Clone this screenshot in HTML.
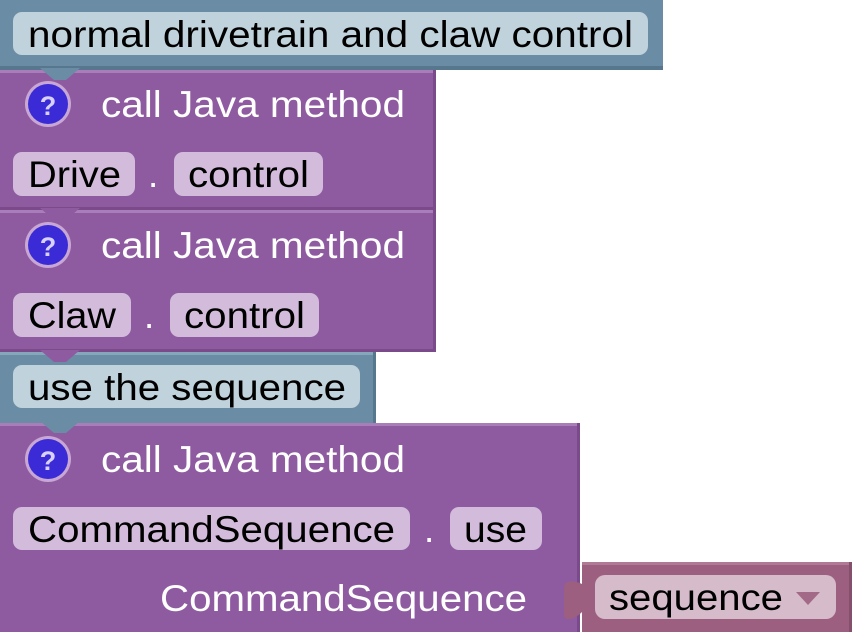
<!DOCTYPE html>
<html><head><meta charset="utf-8"><style>
html,body{margin:0;padding:0;background:#fff;width:854px;height:632px;overflow:hidden}
svg text{font-family:"Liberation Sans",Arial,sans-serif;font-size:37px}
</style></head><body>
<svg width="854" height="632" viewBox="0 0 854 632" xmlns="http://www.w3.org/2000/svg">
<rect x="0" y="0" width="663" height="70" fill="#6a8ca4"/>
<rect x="0" y="66" width="663" height="4" fill="#56778e"/>
<rect x="13" y="12" width="635" height="43" rx="9" fill="#c0d2db"/>
<text x="28" y="47" fill="#000" textLength="605" lengthAdjust="spacingAndGlyphs">normal drivetrain and claw control</text>
<rect x="0" y="70" width="436" height="140" fill="#8f5ba0"/>
<rect x="0" y="70" width="436" height="3" fill="#a97dba"/>
<rect x="433" y="70" width="3" height="140" fill="#7a4a8a"/>
<rect x="0" y="207" width="436" height="3" fill="#7a4a8a"/>
<polygon points="40,68 54,80 66,80 80,68" fill="#6a8ca4"/>
<circle cx="48" cy="104" r="23" fill="#c9a7d4"/>
<circle cx="48" cy="104" r="20" fill="#3a2bd6"/>
<text x="48" y="115" fill="#d8d0ff" text-anchor="middle" font-weight="bold" style="font-size:27px">?</text>
<text x="101" y="117" fill="#fff" textLength="304" lengthAdjust="spacingAndGlyphs">call Java method</text>
<rect x="13" y="152" width="122" height="44" rx="9" fill="#d3bcdb"/>
<text x="28" y="187" fill="#000" textLength="93" lengthAdjust="spacingAndGlyphs">Drive</text>
<text x="148" y="187" fill="#fff">.</text>
<rect x="174" y="152" width="149" height="44" rx="9" fill="#d3bcdb"/>
<text x="188" y="187" fill="#000" textLength="121" lengthAdjust="spacingAndGlyphs">control</text>
<rect x="0" y="210" width="436" height="142" fill="#8f5ba0"/>
<rect x="0" y="210" width="436" height="3" fill="#a97dba"/>
<rect x="433" y="210" width="3" height="142" fill="#7a4a8a"/>
<rect x="0" y="349" width="436" height="3" fill="#7a4a8a"/>
<polygon points="40,208 54,220 66,220 80,208" fill="#8f5ba0"/>
<circle cx="48" cy="245" r="23" fill="#c9a7d4"/>
<circle cx="48" cy="245" r="20" fill="#3a2bd6"/>
<text x="48" y="256" fill="#d8d0ff" text-anchor="middle" font-weight="bold" style="font-size:27px">?</text>
<text x="101" y="258" fill="#fff" textLength="304" lengthAdjust="spacingAndGlyphs">call Java method</text>
<rect x="13" y="293" width="118" height="44" rx="9" fill="#d3bcdb"/>
<text x="28" y="328" fill="#000" textLength="88" lengthAdjust="spacingAndGlyphs">Claw</text>
<text x="144" y="328" fill="#fff">.</text>
<rect x="170" y="293" width="149" height="44" rx="9" fill="#d3bcdb"/>
<text x="184" y="328" fill="#000" textLength="121" lengthAdjust="spacingAndGlyphs">control</text>
<rect x="0" y="352" width="376" height="71" fill="#6a8ca4"/>
<rect x="0" y="352" width="376" height="3" fill="#86a6bb"/>
<rect x="373" y="352" width="3" height="71" fill="#56778e"/>
<polygon points="40,350 54,362 66,362 80,350" fill="#8f5ba0"/>
<rect x="13" y="365" width="347" height="43" rx="9" fill="#c0d2db"/>
<text x="28" y="400" fill="#000" textLength="318" lengthAdjust="spacingAndGlyphs">use the sequence</text>
<rect x="0" y="423" width="580" height="209" fill="#8f5ba0"/>
<rect x="0" y="423" width="580" height="3" fill="#a97dba"/>
<rect x="577" y="423" width="3" height="209" fill="#7a4a8a"/>
<polygon points="40,421 54,433 66,433 80,421" fill="#6a8ca4"/>
<circle cx="48" cy="459" r="23" fill="#c9a7d4"/>
<circle cx="48" cy="459" r="20" fill="#3a2bd6"/>
<text x="48" y="470" fill="#d8d0ff" text-anchor="middle" font-weight="bold" style="font-size:27px">?</text>
<text x="101" y="472" fill="#fff" textLength="304" lengthAdjust="spacingAndGlyphs">call Java method</text>
<rect x="13" y="507" width="397" height="43" rx="9" fill="#d3bcdb"/>
<text x="28" y="542" fill="#000" textLength="367" lengthAdjust="spacingAndGlyphs">CommandSequence</text>
<text x="424" y="542" fill="#fff">.</text>
<rect x="450" y="507" width="92" height="43" rx="9" fill="#d3bcdb"/>
<text x="464" y="542" fill="#000" textLength="63" lengthAdjust="spacingAndGlyphs">use</text>
<text x="160" y="611" fill="#fff" textLength="367" lengthAdjust="spacingAndGlyphs">CommandSequence</text>
<rect x="582" y="562" width="270" height="70" fill="#9c5f7f"/>
<rect x="582" y="562" width="270" height="3" fill="#b07a96"/>
<rect x="849" y="562" width="3" height="70" fill="#85506b"/>
<path d="M582,584 C574,580 564,580 564,588 L564,614 C564,622 574,620 582,612 Z" fill="#9c5f7f"/>
<rect x="595" y="575" width="241" height="44" rx="10" fill="#d6bccb"/>
<text x="609" y="610" fill="#000" textLength="174" lengthAdjust="spacingAndGlyphs">sequence</text>
<polygon points="796,592 820,592 808,605" fill="#a36a88"/>
</svg>
</body></html>
